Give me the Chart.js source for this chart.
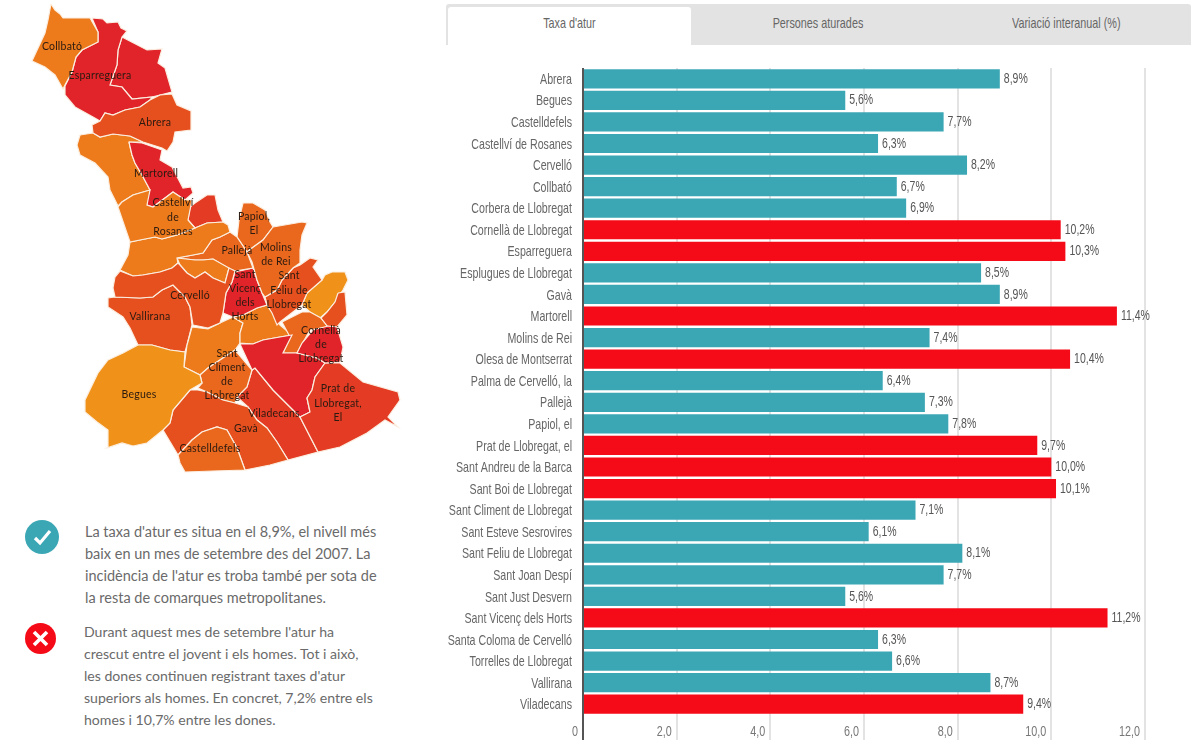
<!DOCTYPE html>
<html lang="ca">
<head>
<meta charset="utf-8">
<title>Taxa d'atur</title>
<script src="https://cdn.jsdelivr.net/npm/chart.js@4"></script>
<style>
  html, body { margin: 0; padding: 0; background: #fff; overflow: hidden; }
  body { width: 1198px; height: 748px; position: relative; }
  canvas { position: absolute; display: block; }
  #mapCanvas { left: 0; top: 0; }
  #barCanvas { left: 440px; top: 60px; }
  .tabs { position: absolute; left: 446px; top: 4px; width: 745px; height: 41px; background: #e3e3e3; border-radius: 3px 3px 0 0; }
  .tab { position: absolute; top: 3px; height: 38px; text-align: center; color: #666;
         font: 15px/32px "Liberation Sans", sans-serif; }
  .tab span { display: inline-block; transform: scaleX(0.72); white-space: nowrap; }
  .tab.active { background: #fff; border-radius: 3px 3px 0 0; }
  .note { position: absolute; color: #6a6a6a; font: 14.5px/22px Lato, sans-serif; white-space: nowrap; }
  .icon { position: absolute; }
</style>
</head>
<body>
<canvas id="mapCanvas" width="420" height="490"></canvas>

<div class="tabs">
  <div class="tab active" style="left:2px;width:243px"><span>Taxa d'atur</span></div>
  <div class="tab" style="left:248px;width:248px"><span>Persones aturades</span></div>
  <div class="tab" style="left:496px;width:248px"><span>Variació interanual (%)</span></div>
</div>
<canvas id="barCanvas" width="758" height="680"></canvas>

<svg class="icon" style="left:25px;top:520px" width="34" height="34" viewBox="0 0 34 34">
  <circle cx="17" cy="17" r="17" fill="#3ba7b5"/>
  <path d="M10 18 L15 23 L25 11" fill="none" stroke="#fff" stroke-width="3.2"/>
</svg>
<div class="note" style="left:85px;top:521px">La taxa d'atur es situa en el 8,9%, el nivell més<br>baix en un mes de setembre des del 2007. La<br>incidència de l'atur es troba també per sota de<br>la resta de comarques metropolitanes.</div>

<svg class="icon" style="left:25px;top:623px" width="31" height="31" viewBox="0 0 31 31">
  <circle cx="15.5" cy="15.5" r="15.5" fill="#f50b17"/>
  <path d="M9 9 L22 22 M22 9 L9 22" fill="none" stroke="#fff" stroke-width="3.6"/>
</svg>
<div class="note" style="left:84px;top:621px;font-size:14.1px">Durant aquest mes de setembre l'atur ha<br>crescut entre el jovent i els homes. Tot i això,<br>les dones continuen registrant taxes d'atur<br>superiors als homes. En concret, 7,2% entre els<br>homes i 10,7% entre les dones.</div>

<script>
// municipis i taxa d'atur
const municipalities = [
  "Abrera", "Begues", "Castelldefels", "Castellví de Rosanes", "Cervelló", "Collbató",
  "Corbera de Llobregat", "Cornellà de Llobregat", "Esparreguera", "Esplugues de Llobregat",
  "Gavà", "Martorell", "Molins de Rei", "Olesa de Montserrat", "Palma de Cervelló, la",
  "Pallejà", "Papiol, el", "Prat de Llobregat, el", "Sant Andreu de la Barca", "Sant Boi de Llobregat",
  "Sant Climent de Llobregat", "Sant Esteve Sesrovires", "Sant Feliu de Llobregat", "Sant Joan Despí",
  "Sant Just Desvern", "Sant Vicenç dels Horts", "Santa Coloma de Cervelló", "Torrelles de Llobregat",
  "Vallirana", "Viladecans"
];
const rates = [
  8.9, 5.6, 7.7, 6.3, 8.2, 6.7, 6.9, 10.2, 10.3, 8.5,
  8.9, 11.4, 7.4, 10.4, 6.4, 7.3, 7.8, 9.7, 10.0, 10.1,
  7.1, 6.1, 8.1, 7.7, 5.6, 11.2, 6.3, 6.6, 8.7, 9.4
];
const xTicks = ["0", "2,0", "4,0", "6,0", "8,0", "10,0", "12,0"];
const comarcaRate = 8.9;

// contorns dels municipis (unitats del mapa)
const abrera = [[172,94],[177,105],[191,111],[191,130],[175,132],[173,142],[167,151],[162,148],[143,142],[130,136],[113,134],[100,137],[93,133],[92,125],[100,121],[105,113],[113,115],[125,110],[140,107],[150,100],[160,95]];
const begues = [[138,345],[152,345],[170,350],[185,352],[184,367],[200,375],[202,383],[190,390],[173,410],[170,423],[163,430],[147,443],[133,446],[122,443],[107,448],[108,430],[97,422],[85,412],[85,400],[98,373],[108,360],[123,353]];
const castelldefels = [[178,455],[192,440],[202,432],[217,427],[227,430],[237,448],[245,470],[213,471],[185,472],[180,463]];
const castellvi = [[118,207],[122,202],[133,195],[150,190],[147,205],[153,207],[173,192],[185,200],[192,200],[188,220],[195,228],[177,235],[162,239],[155,237],[140,240],[130,242]];
const cervello = [[180,265],[187,273],[195,278],[205,272],[213,278],[225,283],[229,268],[235,271],[232,282],[226,293],[223,313],[220,323],[208,328],[193,325],[190,307],[185,297],[173,285],[162,290],[153,297],[140,298],[115,297],[113,288],[115,277],[120,271],[133,276],[143,275],[160,272],[172,268],[178,263]];
const collbato = [[51,4],[55,10],[60,14],[63,18],[90,18],[98,32],[98,42],[82,50],[76,57],[72,72],[65,85],[63,89],[55,75],[45,67],[32,61],[45,33],[48,20]];
const corbera = [[130,242],[140,240],[155,237],[162,239],[177,235],[195,228],[207,223],[223,222],[228,225],[230,232],[220,237],[212,240],[203,253],[193,255],[177,258],[178,263],[172,268],[160,272],[143,275],[133,276],[120,270],[128,255]];
const cornella = [[313,330],[328,326],[337,327],[343,347],[340,362],[325,363],[317,358],[297,353],[302,343]];
const esparreguera = [[92,18],[103,19],[107,23],[118,22],[121,28],[127,31],[122,37],[118,50],[117,65],[110,85],[122,87],[132,99],[152,97],[150,100],[140,107],[125,110],[113,115],[105,113],[100,121],[93,117],[75,107],[65,95],[65,86],[72,72],[76,57],[82,50],[98,42],[98,32]];
const esplugues = [[338,293],[345,292],[347,315],[337,327],[328,327],[321,318],[327,312],[335,302]];
const gava = [[198,390],[207,392],[223,400],[235,403],[248,407],[257,420],[267,428],[277,442],[288,460],[270,465],[245,470],[237,448],[227,430],[217,427],[202,432],[192,440],[178,455],[163,430],[170,423],[173,410],[190,390]];
const martorell = [[129,142],[142,143],[162,150],[160,160],[172,167],[183,188],[191,187],[193,193],[185,200],[173,192],[153,207],[147,205],[147,193],[150,190],[142,175],[135,163],[132,155]];
const molins = [[273,227],[302,222],[307,223],[302,235],[300,250],[300,263],[293,268],[282,280],[277,290],[265,297],[262,293],[257,280],[252,262],[247,252],[252,248],[263,240]];
const olesa = [[122,37],[147,50],[162,49],[158,63],[165,68],[172,92],[160,95],[152,97],[132,99],[122,87],[110,85],[117,65],[118,50]];
const palma = [[177,258],[195,260],[203,260],[213,259],[229,268],[225,283],[213,278],[205,272],[195,278],[187,273],[180,265]];
const palleja = [[230,232],[237,237],[247,252],[253,268],[235,271],[228,268],[213,259],[203,260],[195,260],[177,258],[193,255],[203,253],[212,240],[220,237]];
const papiol = [[243,203],[253,203],[265,210],[270,222],[273,227],[263,240],[252,248],[247,252],[237,237],[239,220]];
const prat = [[325,363],[340,363],[363,382],[398,392],[400,400],[388,417],[398,427],[385,420],[367,433],[340,447],[318,452],[300,417],[310,412],[307,398],[312,390],[315,377]];
const santAndreu = [[190,207],[195,203],[207,195],[215,195],[218,210],[223,222],[207,223],[195,228],[188,220]];
const santBoi = [[240,344],[253,344],[263,340],[280,337],[292,335],[283,353],[297,353],[317,358],[325,363],[315,377],[312,390],[307,398],[310,412],[300,417],[293,410],[273,390],[255,368],[252,370]];
const santCliment = [[235,350],[252,370],[247,387],[237,397],[235,403],[223,400],[207,392],[198,388],[202,383],[200,375],[208,368],[220,360]];
const santEsteve = [[80,135],[93,133],[100,137],[113,134],[130,136],[143,142],[129,142],[132,155],[135,163],[142,175],[150,190],[133,195],[122,202],[118,206],[110,190],[108,177],[95,163],[80,155],[77,145]];
const santFeliu = [[300,265],[310,258],[318,260],[313,267],[322,280],[307,293],[302,305],[280,322],[277,325],[272,313],[267,305],[265,297],[277,290],[282,280],[293,268]];
const santJoan = [[282,322],[302,312],[310,312],[321,318],[328,327],[310,330],[297,353],[283,353],[290,337]];
const santJust = [[325,275],[332,272],[345,272],[348,280],[343,290],[335,302],[327,312],[320,318],[310,312],[302,305],[307,293],[322,280]];
const santVicenc = [[235,272],[253,268],[257,280],[262,293],[267,305],[257,308],[243,315],[233,317],[223,313],[226,293],[232,282]];
const santaColoma = [[233,317],[243,315],[257,308],[267,305],[273,313],[280,325],[292,335],[280,337],[263,340],[253,344],[240,343],[240,333],[243,323]];
const torrelles = [[192,327],[208,329],[220,323],[233,317],[243,323],[240,333],[240,343],[235,350],[220,360],[208,368],[200,375],[184,367],[187,345]];
const vallirana = [[115,297],[140,298],[153,297],[162,290],[173,285],[185,297],[190,307],[192,325],[187,345],[185,352],[170,350],[152,345],[138,345],[130,328],[123,317],[108,307],[108,298]];
const viladecans = [[255,368],[273,390],[293,410],[300,417],[318,452],[288,460],[277,442],[267,428],[257,420],[248,407],[237,397],[247,387],[252,370]];

// mateix ordre que municipalities
const outlines = [
  abrera, begues, castelldefels, castellvi, cervello, collbato, corbera, cornella, esparreguera, esplugues,
  gava, martorell, molins, olesa, palma, palleja, papiol, prat, santAndreu, santBoi,
  santCliment, santEsteve, santFeliu, santJoan, santJust, santVicenc, santaColoma, torrelles, vallirana, viladecans
];

// etiquetes del mapa: text i posició en unitats del mapa
const mapLabels = [
  ["Collbató",62,47],["Esparreguera",100,76],["Abrera",155,123],["Martorell",156,174],
  ["Castellví",173,203],["de",173,218],["Rosanes",173,232],["Papiol,",254,217],["El",254,231],
  ["Pallejà",237,251],["Molins",276,248],["de Rei",276,262],["Sant",289,276],["Feliu de",289,291],["Llobregat",289,305],
  ["Sant",245,275],["Vicenç",245,289],["dels",245,303],["Horts",245,317],["Cervelló",190,296],["Vallirana",150,317],
  ["Cornellà",321,331],["de",321,345],["Llobregat",321,359],["Sant",227,354],["Clíment",227,368],["de",227,382],["Llobregat",227,396],
  ["Begues",139,395],["Prat de",338,389],["Llobregat,",338,404],["El",338,418],["Viladecans",274,414],["Gavà",246,429],["Castelldefels",210,449]
];

const narrowFont = '15px "Liberation Sans", sans-serif';

function mapColor(v) {
  if (v < 6) return "#f0921a";
  if (v < 7) return "#ed7b1c";
  if (v < 8) return "#ea681e";
  if (v < 9) return "#e6501f";
  if (v < 10.05) return "#e43c24";
  return "#e0242a";
}

// text estret: no hi ha cap font narrow instal·lada
function narrowText(ctx, txt, x, y, k) {
  ctx.save();
  ctx.translate(x, y);
  ctx.scale(k, 1);
  ctx.fillText(txt, 0, 0);
  ctx.restore();
}

// textos del mapa
const mapLabelPlugin = {
  id: "mapLabelPlugin",
  afterDatasetsDraw(chart) {
    const { ctx, scales } = chart;
    ctx.save();
    ctx.font = "10.5px Lato, sans-serif";
    ctx.letterSpacing = "0.2px";
    ctx.fillStyle = "#2a1a10";
    ctx.textAlign = "center";
    ctx.textBaseline = "middle";
    mapLabels.forEach(l => ctx.fillText(l[0], scales.x.getPixelForValue(l[1]), scales.y.getPixelForValue(l[2])));
    ctx.restore();
  }
};

new Chart(document.getElementById("mapCanvas"), {
  type: "scatter",
  data: {
    datasets: outlines.map((o, i) => ({
      label: municipalities[i],
      data: o.concat([o[0]]).map(p => ({ x: p[0], y: p[1] })),
      showLine: true,
      fill: "shape",
      tension: 0,
      backgroundColor: mapColor(rates[i]),
      borderColor: "#fbeee0",
      borderWidth: 1.2,
      pointRadius: 0
    }))
  },
  options: {
    responsive: false,
    animation: false,
    layout: { padding: 0 },
    plugins: { legend: { display: false }, tooltip: { enabled: false } },
    scales: {
      x: { type: "linear", display: false, min: 0, max: 420 },
      y: { type: "linear", display: false, min: 0, max: 490, reverse: true }
    }
  },
  plugins: [mapLabelPlugin]
});

// etiquetes dels eixos i valor al final de cada barra
const barLabelPlugin = {
  id: "barLabelPlugin",
  afterDatasetsDraw(chart) {
    const { ctx, scales } = chart;
    ctx.save();
    ctx.font = narrowFont;
    ctx.textBaseline = "middle";

    ctx.textAlign = "left";
    ctx.fillStyle = "#555";
    rates.forEach((v, i) => {
      const txt = v.toFixed(1).replace(".", ",") + "%";
      narrowText(ctx, txt, scales.x.getPixelForValue(v) + 4, scales.y.getPixelForValue(i), 0.7);
    });

    ctx.textAlign = "right";
    ctx.fillStyle = "#666";
    municipalities.forEach((m, i) => narrowText(ctx, m, chart.chartArea.left - 11, scales.y.getPixelForValue(i) + 1, 0.71));

    ctx.fillStyle = "#777";
    scales.x.ticks.forEach((t, i) => narrowText(ctx, xTicks[i], scales.x.getPixelForValue(t.value) - 5, chart.chartArea.bottom + 17, 0.72));
    ctx.restore();
  }
};

new Chart(document.getElementById("barCanvas"), {
  type: "bar",
  data: {
    labels: municipalities,
    datasets: [{
      data: rates,
      backgroundColor: rates.map(v => v > comarcaRate ? "#f50b17" : "#3ba7b5"),
      barPercentage: 0.89,
      categoryPercentage: 1
    }]
  },
  options: {
    indexAxis: "y",
    responsive: false,
    animation: false,
    layout: { padding: { top: 8, right: 53, left: 0, bottom: 0 } },
    plugins: { legend: { display: false }, tooltip: { enabled: false } },
    scales: {
      x: {
        min: 0,
        max: 12,
        afterFit: s => { s.height = 25; },
        border: { display: false },
        grid: {
          drawTicks: true,
          tickLength: 25,
          lineWidth: 2,
          color: c => c.tick && c.tick.value === 0 ? "#555" : "#e3e3e3"
        },
        ticks: { stepSize: 2, display: false }
      },
      y: {
        afterFit: s => { s.width = 143; },
        border: { display: false },
        grid: { display: false },
        ticks: { autoSkip: false, display: false }
      }
    }
  },
  plugins: [barLabelPlugin]
});
</script>
</body>
</html>
